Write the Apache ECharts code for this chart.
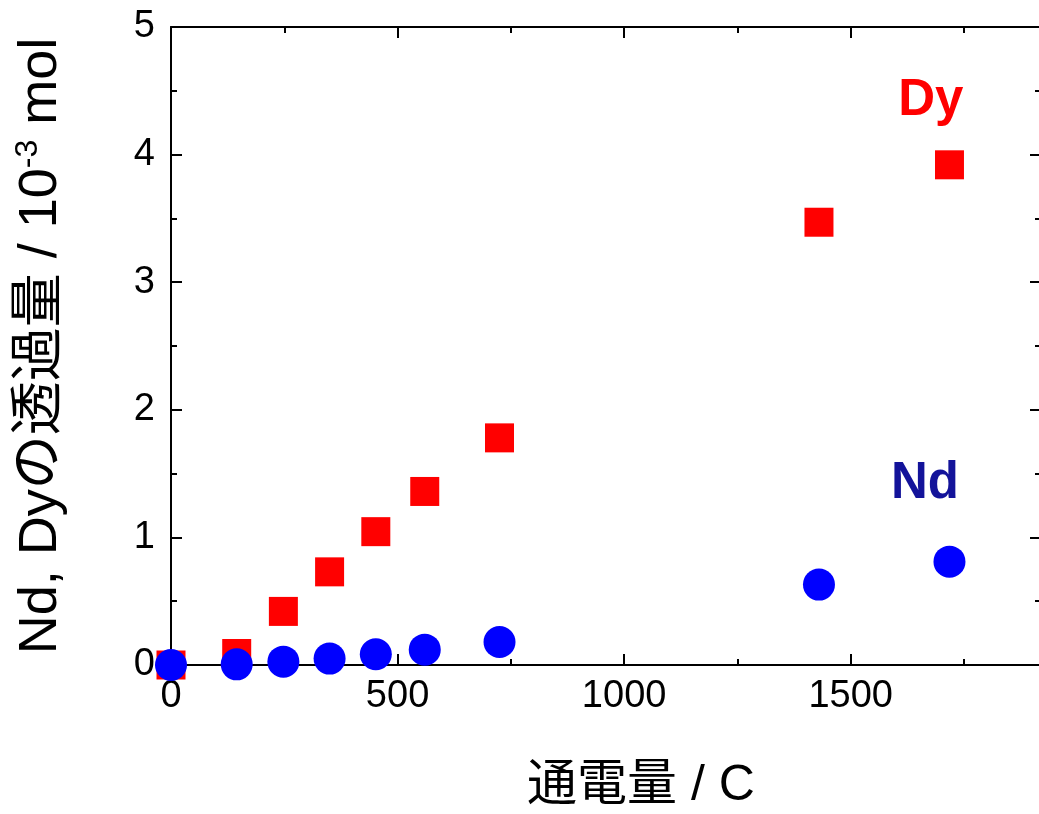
<!DOCTYPE html>
<html><head><meta charset="utf-8">
<script src="https://cdn.jsdelivr.net/npm/echarts@6/dist/echarts.min.js"></script>
<style>html,body{margin:0;padding:0;background:#fff}#c{width:1039px;height:814px}</style>
</head><body><div id="c"></div>
<script>
// charge passed (C)
const chargeC = [0, 145, 248, 350, 452, 560, 725, 1430, 1718];
// permeated amount, 10^-3 mol
const dyValues = [0, 0.09, 0.42, 0.73, 1.045, 1.36, 1.78, 3.47, 3.92];
const ndValues = [0, 0.005, 0.026, 0.05, 0.084, 0.12, 0.18, 0.63, 0.81];
// series annotations (data coordinates)
const labelNames = ['Dy', 'Nd'];
const labelX = [1677, 1664];
const labelY = [4.42, 1.42];

const FONT = "'Liberation Sans', 'Noto Sans CJK JP', sans-serif";
const chart = echarts.init(document.getElementById('c'), null, {renderer: 'canvas'});

function axisCommon() {
  return {
    axisLine: {show: true, onZero: false, lineStyle: {color: '#000', width: 2}},
    axisTick: {show: true, inside: true, length: 11, lineStyle: {color: '#000', width: 2}},
    minorTick: {show: true, splitNumber: 2, length: 6, lineStyle: {color: '#000', width: 2}},
    splitLine: {show: false},
    minorSplitLine: {show: false}
  };
}

const option = {
  animation: false,
  backgroundColor: '#fff',
  grid: {left: 171, right: -2, top: 27, bottom: 149, containLabel: false, outerBoundsMode: 'none'},
  xAxis: [
    Object.assign(axisCommon(), {
      type: 'value', min: 0, max: 1920, interval: 500, position: 'bottom',
      axisLabel: {show: true, fontSize: 38, color: '#000', fontFamily: FONT, margin: 13,
        showMaxLabel: false, formatter: v => String(v)},
      name: '通電量 / C', nameLocation: 'middle', nameGap: 96,
      nameTextStyle: {fontSize: 50, color: '#000', fontFamily: FONT, padding: [0, 0, 0, 70]}
    }),
    Object.assign(axisCommon(), {
      type: 'value', min: 0, max: 1920, interval: 500, position: 'top',
      axisLabel: {show: false}
    })
  ],
  yAxis: [
    Object.assign(axisCommon(), {
      type: 'value', min: 0, max: 5, interval: 1, position: 'left',
      axisLabel: {show: true, fontSize: 38, color: '#000', fontFamily: FONT, margin: 16,
        formatter: v => String(v)},
      name: '{a|Nd, Dyの透過量 / 10}{s|-3}{a| mol}',
      nameLocation: 'middle', nameGap: 101, nameRotate: 90,
      nameTextStyle: {
        color: '#000', fontFamily: FONT,
        rich: {
          a: {fontSize: 54, color: '#000', fontFamily: FONT, lineHeight: 58},
          s: {fontSize: 32, color: '#000', fontFamily: FONT, verticalAlign: 'top', lineHeight: 58}
        }
      }
    }),
    Object.assign(axisCommon(), {
      type: 'value', min: 0, max: 5, interval: 1, position: 'right',
      axisLabel: {show: false}
    })
  ],
  series: [
    {
      name: 'Dy', type: 'scatter', symbol: 'rect', symbolSize: 29,
      itemStyle: {color: '#ff0000', opacity: 1},
      data: chargeC.map((x, i) => [x, dyValues[i]]),
      z: 2
    },
    {
      name: 'Nd', type: 'scatter', symbol: 'circle', symbolSize: 32,
      itemStyle: {color: '#0000ff', opacity: 1},
      data: chargeC.map((x, i) => [x, ndValues[i]]),
      z: 3
    },
    {
      name: 'labels', type: 'scatter', symbolSize: 0, silent: true,
      itemStyle: {opacity: 1},
      data: labelNames.map((n, i) => ({
        value: [labelX[i], labelY[i], n],
        label: {color: i === 0 ? '#ff0000' : '#13139a'}
      })),
      label: {
        show: true, position: 'inside', fontSize: 51, fontWeight: 'bold', opacity: 1,
        fontFamily: FONT, formatter: p => p.value[2]
      },
      z: 4
    }
  ]
};
chart.setOption(option);
</script>
</body></html>
